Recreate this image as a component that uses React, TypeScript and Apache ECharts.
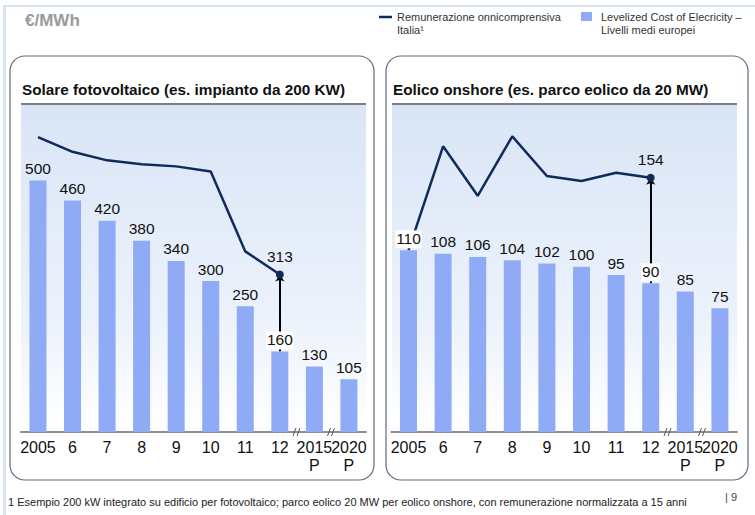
import React, { useEffect, useRef } from "react";
import * as echarts from "echarts";

const categories = ["2005", "6", "7", "8", "9", "10", "11", "12", "2015\nP", "2020\nP"];
const solarLcoe = [500, 460, 420, 380, 340, 300, 250, 160, 130, 105];
const solarRemun = [586, 557, 540, 532, 528, 518, 359, 313, null, null];
const windLcoe = [110, 108, 106, 104, 102, 100, 95, 90, 85, 75];
const windRemun = [110, 173, 143, 179, 155, 152, 157, 154, null, null];
const markIndex = 7;

const FONT = "Liberation Sans, Arial, Helvetica, sans-serif";
const BAR = "#8fabf6";
const NAVY = "#0f2b5b";

function lineData(vals: (number | null)[]) {
  return vals.map((v, i) =>
    i === markIndex
      ? {
          value: v,
          symbol: "circle",
          symbolSize: 8,
          label: {
            show: true,
            position: "top",
            distance: 6,
            fontSize: 15.5,
            color: "#111",
            fontFamily: FONT,
          },
        }
      : { value: v, symbol: "none" }
  );
}

function barData(vals: number[], whiteIdx: number[]) {
  return vals.map((v, i) =>
    whiteIdx.includes(i)
      ? {
          value: v,
          label: {
            backgroundColor: "#ffffff",
            padding: [0, 1, 2, 1],
            distance: 2,
          },
        }
      : v
  );
}

export default function App() {
  const ref = useRef<HTMLDivElement>(null);
  useEffect(() => {
    if (!ref.current) return;
    const chart = echarts.init(ref.current, null, { renderer: "svg" });
    const grad = () =>
      new echarts.graphic.LinearGradient(0, 0, 0, 1, [
        { offset: 0, color: "#d9e5f6" },
        { offset: 0.65, color: "#ecf2fb" },
        { offset: 1, color: "#ffffff" },
      ]);
    const breakMarks = (xs: number[]) =>
      xs.flatMap((x) => [
        { type: "line", z: 10, shape: { x1: x - 4, y1: 436, x2: x - 1, y2: 428 }, style: { stroke: "#555", lineWidth: 1 } },
        { type: "line", z: 10, shape: { x1: x, y1: 436, x2: x + 3, y2: 428 }, style: { stroke: "#555", lineWidth: 1 } },
      ]);
    const xAxisCommon = {
      type: "category",
      data: categories,
      axisTick: { show: false },
      axisLine: { lineStyle: { color: "#6b6b6b", width: 1.5 } },
      axisLabel: { fontSize: 16, color: "#111", margin: 6, lineHeight: 18, interval: 0, fontFamily: FONT },
    };
    const barLabel = { show: true, position: "top", distance: 4, fontSize: 15.5, color: "#111", fontFamily: FONT };
    const arrowLine = (from: number, to: number) => ({
      silent: true,
      z: 1,
      symbol: ["none", "arrow"],
      symbolSize: 7,
      label: { show: false },
      lineStyle: { color: "#000", width: 2, type: "solid" },
      data: [[{ coord: [markIndex, from] }, { coord: [markIndex, to] }]],
    });
    chart.setOption({
      animation: false,
      textStyle: { fontFamily: FONT },
      grid: [
        { left: 20.7, right: 388.8, top: 105, bottom: 83 },
        { left: 391.2, right: 17.8, top: 105, bottom: 83 },
      ],
      xAxis: [
        { ...xAxisCommon, gridIndex: 0 },
        { ...xAxisCommon, gridIndex: 1 },
      ],
      yAxis: [
        { type: "value", gridIndex: 0, min: 0, max: 650, show: false },
        { type: "value", gridIndex: 1, min: 0, max: 198, show: false },
      ],
      graphic: [
        { type: "rect", z: -10, shape: { x: 3, y: 5, width: 752, height: 2 }, style: { fill: "#d5e4f3" } },
        { type: "rect", z: -10, shape: { x: 3, y: 5, width: 3, height: 510 }, style: { fill: "#d5e4f3" } },
        { type: "rect", z: -5, shape: { x: 10, y: 56, width: 364, height: 424, r: 15 }, style: { fill: "#fff", stroke: "#5f6c80", lineWidth: 1.2 } },
        { type: "rect", z: -5, shape: { x: 386, y: 56, width: 362, height: 424, r: 15 }, style: { fill: "#fff", stroke: "#5f6c80", lineWidth: 1.2 } },
        { type: "rect", z: -4, shape: { x: 21, y: 105, width: 345, height: 327 }, style: { fill: grad() } },
        { type: "rect", z: -4, shape: { x: 392, y: 105, width: 345, height: 327 }, style: { fill: grad() } },
        { type: "line", z: -3, shape: { x1: 21, y1: 104, x2: 366, y2: 104 }, style: { stroke: "#555", lineWidth: 1.5 } },
        { type: "line", z: -3, shape: { x1: 392, y1: 104, x2: 737, y2: 104 }, style: { stroke: "#555", lineWidth: 1.5 } },
        { type: "text", x: 22, y: 89, style: { text: "Solare fotovoltaico (es. impianto da 200 KW)", fontSize: 15.3, fontWeight: "bold", fill: "#111", fontFamily: FONT, verticalAlign: "middle" } },
        { type: "text", x: 393, y: 89, style: { text: "Eolico onshore (es. parco eolico da 20 MW)", fontSize: 15.3, fontWeight: "bold", fill: "#111", fontFamily: FONT, verticalAlign: "middle" } },
        { type: "text", x: 25, y: 20, style: { text: "€/MWh", fontSize: 17, fontWeight: "bold", fill: "#9a9a9a", fontFamily: FONT, verticalAlign: "middle" } },
        { type: "line", shape: { x1: 379, y1: 17, x2: 392, y2: 17 }, style: { stroke: NAVY, lineWidth: 2.5 } },
        { type: "text", x: 397, y: 10, style: { text: "Remunerazione onnicomprensiva\nItalia¹", fontSize: 11, lineHeight: 13, fill: "#333", fontFamily: FONT } },
        { type: "rect", shape: { x: 581, y: 12, width: 11, height: 9 }, style: { fill: BAR } },
        { type: "text", x: 601, y: 10, style: { text: "Levelized Cost of Elecricity –\nLivelli medi europei", fontSize: 11, lineHeight: 13, fill: "#333", fontFamily: FONT } },
        { type: "text", x: 8, y: 502, style: { text: "1 Esempio 200 kW integrato su edificio per fotovoltaico; parco eolico 20 MW per eolico onshore, con remunerazione normalizzata a 15 anni", fontSize: 11, fill: "#222", fontFamily: FONT, verticalAlign: "middle" } },
        { type: "text", x: 725, y: 497, style: { text: "| 9", fontSize: 11, fill: "#444", fontFamily: FONT, verticalAlign: "middle" } },
        ...breakMarks([297, 331.5, 668, 702.5]),
      ],
      series: [
        {
          name: "Remunerazione onnicomprensiva Italia",
          type: "line",
          xAxisIndex: 0,
          yAxisIndex: 0,
          z: 2,
          data: lineData(solarRemun),
          lineStyle: { color: NAVY, width: 2.5 },
          itemStyle: { color: NAVY },
          markLine: arrowLine(solarLcoe[markIndex], solarRemun[markIndex] as number),
        },
        {
          name: "Levelized Cost of Elecricity",
          type: "bar",
          xAxisIndex: 0,
          yAxisIndex: 0,
          z: 3,
          barWidth: 17,
          itemStyle: { color: BAR },
          label: barLabel,
          data: barData(solarLcoe, [markIndex]),
        },
        {
          name: "Remunerazione onnicomprensiva Italia",
          type: "line",
          xAxisIndex: 1,
          yAxisIndex: 1,
          z: 2,
          data: lineData(windRemun),
          lineStyle: { color: NAVY, width: 2.5 },
          itemStyle: { color: NAVY },
          markLine: arrowLine(windLcoe[markIndex], windRemun[markIndex] as number),
        },
        {
          name: "Levelized Cost of Elecricity",
          type: "bar",
          xAxisIndex: 1,
          yAxisIndex: 1,
          z: 3,
          barWidth: 17,
          itemStyle: { color: BAR },
          label: barLabel,
          data: barData(windLcoe, [0, markIndex]),
        },
      ],
    });
    return () => chart.dispose();
  }, []);
  return (
    <div
      ref={ref}
      style={{ position: "fixed", left: 0, top: 0, width: 755, height: 515, background: "#fff" }}
    />
  );
}
